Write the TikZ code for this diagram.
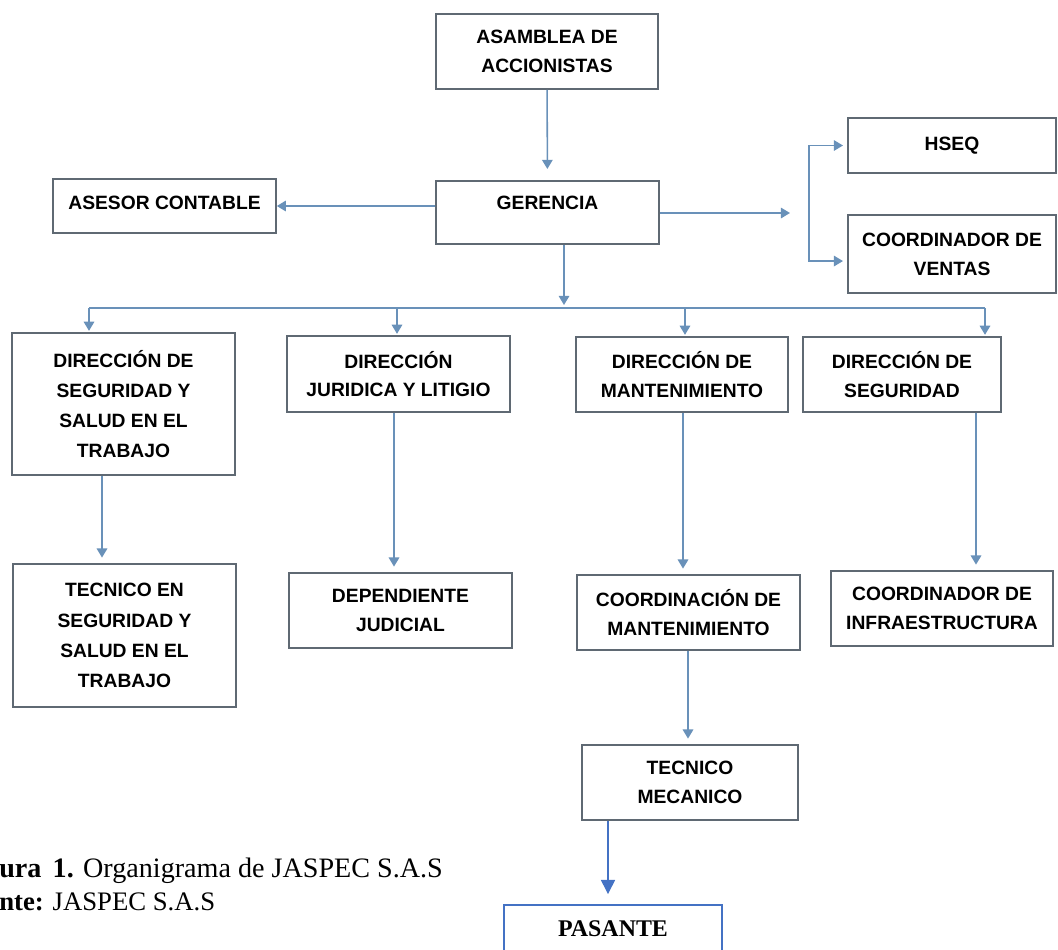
\documentclass[tikz,border=0pt]{standalone}
\usepackage{fontspec}
\setmainfont{Liberation Serif}
\newfontfamily\orgfont{Liberation Sans}
\usetikzlibrary{arrows.meta, positioning}
\definecolor{boxgray}{RGB}{95,105,115}
\definecolor{linkblue}{RGB}{105,145,185}
\definecolor{passblue}{RGB}{68,114,196}

\begin{document}
\begin{tikzpicture}[
  x=0.025cm, y=-0.025cm,
  box/.style={rectangle, draw=boxgray, line width=1.1pt, fill=white, align=center, inner sep=0pt,
              minimum width=5.575cm, minimum height=1.875cm,
              font=\orgfont\bfseries\fontsize{13.7}{20.5}\selectfont},
  tallbox/.style={box, minimum height=3.55cm, font=\orgfont\bfseries\fontsize{13.7}{21.5}\selectfont},
  passbox/.style={rectangle, draw=passblue, line width=1.6pt, fill=white, inner sep=0pt,
                  minimum width=5.45cm, minimum height=1.2cm, font=\bfseries\fontsize{17}{20}\selectfont},
  arrow/.style={-{Triangle[width=7.5pt,length=6.5pt]}, line width=1.1pt, color=linkblue, shorten >=3pt},
  link/.style={line width=1.1pt, color=linkblue},
  parrow/.style={-{Triangle[width=10pt,length=10pt]}, line width=1pt, color=passblue, shorten >=7pt},
  caption/.style={anchor=base west, inner sep=0pt}
]
\useasboundingbox (0,0) rectangle (1058,949);

% --- Top ---
\node[box, minimum width=5.55cm] (asamblea) at (547,51.5) {ASAMBLEA DE\\ACCIONISTAS};
\node[box, minimum height=1.575cm] (gerencia) at (547.5,212.5) {\raisebox{14pt}{GERENCIA}};
\node[box, minimum height=1.35cm] (asesor) at (164.5,206) {\raisebox{5pt}{ASESOR CONTABLE}};
\node[box, minimum width=5.2cm, minimum height=1.375cm] (hseq) at (952,145.5) {HSEQ};
\node[box, minimum width=5.2cm, minimum height=1.95cm] (ventas) at (952,254) {COORDINADOR DE\\VENTAS};

% --- Direcciones ---
\node[tallbox] (dirsst) at (123.5,404) {DIRECCIÓN DE\\SEGURIDAD Y\\SALUD EN EL\\TRABAJO};
\node[box, minimum height=1.9cm] (dirjur) at (398.5,374) {DIRECCIÓN\\JURIDICA Y LITIGIO};
\node[box, minimum width=5.3cm] (dirmant) at (682,374.5) {DIRECCIÓN DE\\MANTENIMIENTO};
\node[box, minimum width=4.95cm] (dirseg) at (902,374.5) {DIRECCIÓN DE\\SEGURIDAD};

% --- Second level ---
\node[tallbox, minimum height=3.575cm] (tecsst) at (124.5,635.5) {TECNICO EN\\SEGURIDAD Y\\SALUD EN EL\\TRABAJO};
\node[box] (depjud) at (400.5,610.5) {DEPENDIENTE\\JUDICIAL};
\node[box] (coordmant) at (688.5,612.5) {COORDINACIÓN DE\\MANTENIMIENTO};
\node[box, minimum width=5.55cm] (coordinfra) at (942,608.5) {COORDINADOR DE\\INFRAESTRUCTURA};
\node[box, minimum width=5.4cm] (tecmec) at (690,782.5) {TECNICO\\MECANICO};
\node[passbox] (pasante) at (613,929) {PASANTE};

% Arrows top
\draw[arrow, shorten >=8pt] (asamblea) -- (gerencia);
\draw[arrow, shorten >=0pt] (gerencia.west |- asesor.east) -- (asesor.east);
\coordinate (gout) at (790,213);
\draw[arrow, shorten >=0pt] (gerencia.east |- gout) -- (gout);
\coordinate (brk) at (809,213);
\draw[arrow] (brk) |- (hseq.west);
\draw[arrow] (brk) |- ([yshift=-5pt]ventas.west);

% Bus
\coordinate (gdrop) at (564,305);
\draw[arrow, shorten >=0pt] (gerencia.south -| gdrop) -- (gdrop);
\coordinate (busL) at (89,308);
\coordinate (busR) at (985,308);
\draw[link] (busL) -- (busR);
\foreach \n/\x in {dirsst/89, dirjur/397, dirmant/685, dirseg/985} {
  \coordinate (top-\n) at (\x,308);
  \draw[arrow, shorten >=1pt] (top-\n) -- (top-\n |- \n.north);
}

% Arrows down
\foreach \a/\b/\x in {dirsst/tecsst/102, dirjur/depjud/394, dirmant/coordmant/683,
                      dirseg/coordinfra/976, coordmant/tecmec/688} {
  \coordinate (v-\a) at (\x,0);
  \draw[arrow, shorten >=4pt] (\a.south -| v-\a) -- (\b.north -| v-\a);
}
\coordinate (vp) at (608,0);
\draw[parrow] (tecmec.south -| vp) -- (pasante.north -| vp);

% Caption
\node[caption, font=\fontsize{20}{24}\selectfont] (fig) at (-1,877)
  {\textbf{ura\hspace{0.4em}1.} Organigrama de JASPEC S.A.S};
\node[caption, font=\fontsize{19}{23}\selectfont] (src) at (-1,910) {\textbf{nte:} JASPEC S.A.S};

\end{tikzpicture}
\end{document}
